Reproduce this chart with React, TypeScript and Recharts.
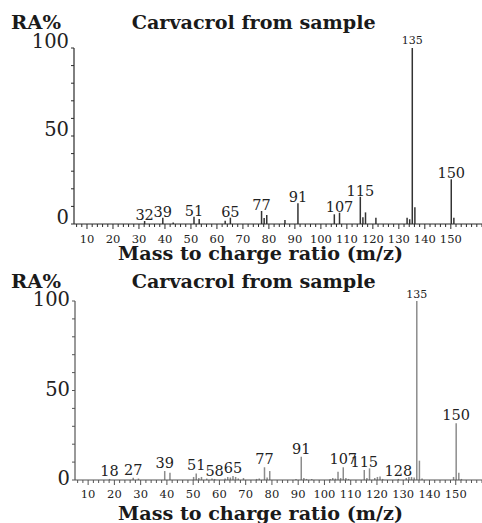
import React from 'react';
import { BarChart, Bar, XAxis, YAxis, LabelList } from 'recharts';

// ---- data: top spectrum ----
const topMz = [32, 39, 43, 51, 53, 63, 65, 77, 78, 79, 86, 91, 105, 107, 115, 116, 117, 121, 133, 134, 135, 136, 150, 151];
const topRA = [1.7, 3.6, 0.9, 4.1, 2.8, 1.9, 3.6, 7.4, 3.4, 5.1, 2.3, 11.8, 5.5, 6.4, 15.5, 3.8, 6.6, 3.6, 3.6, 2.7, 100, 9.5, 25.4, 3.6];
const topLabeled = [32, 39, 51, 65, 77, 91, 107, 115, 135, 150];

// ---- data: bottom spectrum ----
const bottomMz = [18, 27, 29, 39, 41, 50, 51, 52, 53, 55, 57, 58, 62, 63, 64, 65, 66, 67, 69, 74, 75, 77, 78, 79, 89, 91, 92, 93, 95, 102, 103, 104, 105, 106, 107, 108, 109, 115, 116, 117, 119, 120, 121, 122, 128, 131, 132, 133, 134, 135, 136, 137, 149, 150, 151, 152];
const bottomRA = [0.6, 1.2, 0.8, 5.0, 4.1, 1.7, 3.7, 1.1, 1.7, 0.8, 0.8, 0.6, 0.8, 1.7, 1.4, 2.2, 1.7, 0.8, 1.1, 0.6, 0.8, 7.1, 1.4, 5.0, 0.6, 13.0, 1.1, 0.6, 0.6, 0.6, 1.1, 0.8, 4.6, 1.1, 7.1, 1.1, 0.6, 5.6, 1.1, 6.5, 1.1, 1.7, 2.0, 0.6, 0.6, 1.1, 1.7, 1.7, 1.4, 100, 10.8, 0.8, 1.7, 31.7, 4.1, 0.6];
const bottomLabeled = [18, 27, 39, 51, 58, 65, 77, 91, 107, 115, 128, 135, 150];

// ---- axis labels ----
const xMajorTicks = [10, 20, 30, 40, 50, 60, 70, 80, 90, 100, 110, 120, 130, 140, 150];
const yLabelTicks = [0, 50, 100];
const yTicks = [0, 10, 20, 30, 40, 50, 60, 70, 80, 90, 100];

const chartTitle = 'Carvacrol from sample';
const yTitle = 'RA%';
const xTitle = 'Mass to charge ratio (m/z)';

const FONT = '"DejaVu Serif", serif';

function buildData(mz: number[], ra: number[], labeled: number[]) {
  return mz.map((m, i) => ({ mz: m, ra: ra[i], label: labeled.includes(m) ? String(m) : undefined }));
}

function minorTicks(from: number, to: number) {
  const t: number[] = [];
  for (let v = from; v <= to; v += 2) t.push(v);
  return t;
}

const makeXTick = (color: string, labelDy: number) => (props: any) => {
  const { x, y, payload } = props;
  const v = payload.value;
  const major = xMajorTicks.includes(v);
  return (
    <g>
      <line x1={x} x2={x} y1={y} y2={y + (major ? 5 : 3)} stroke={color} strokeWidth={1} />
      {major && (
        <text x={x} y={y + labelDy} textAnchor="middle" fontFamily={FONT} fontSize={11.5} fill="#222">
          {v}
        </text>
      )}
    </g>
  );
};

const makeYTick = (color: string, centerDy: number) => (props: any) => {
  const { x, y, payload } = props;
  const v = payload.value;
  const lab = yLabelTicks.includes(v);
  return (
    <g>
      <line x1={x - 3} x2={x} y1={y} y2={y} stroke={color} strokeWidth={1} />
      {lab && (
        <text x={x - 5} y={y + centerDy + 7} textAnchor="end" fontFamily={FONT} fontSize={19.5} fill="#222">
          {v}
        </text>
      )}
    </g>
  );
};

const makePeakLabel = (offset: number, smallOffset: number) => (props: any) => {
  const { x, y, width, value } = props;
  if (value === undefined || value === null || value === '') return null;
  const small = value === '135';
  return (
    <text
      x={Number(x) + Number(width) / 2}
      y={Number(y) - (small ? smallOffset : offset)}
      textAnchor="middle"
      fontFamily={FONT}
      fontSize={small ? 11 : 14.5}
      fill="#222"
    >
      {value}
    </text>
  );
};

interface SpecProps {
  data: any[];
  height: number;
  top: number;
  yAxisWidth: number;
  xAxisHeight: number;
  domainMax: number;
  barColor: string;
  axisColor: string;
  xLabelDy: number;
  yCenterDy: number;
  labelOffset: number;
  smallOffset: number;
}

function Spectrum(p: SpecProps) {
  return (
    <BarChart
      width={482}
      height={p.height}
      data={p.data}
      margin={{ top: p.top, right: 0, left: 0, bottom: 0 }}
      barSize={1.5}
    >
      <XAxis
        type="number"
        dataKey="mz"
        domain={[5, p.domainMax]}
        ticks={minorTicks(6, p.domainMax)}
        interval={0}
        allowDataOverflow
        height={p.xAxisHeight}
        tickSize={0}
        tickMargin={0}
        tickLine={false}
        axisLine={{ stroke: p.axisColor, strokeWidth: 1.2 }}
        tick={makeXTick(p.axisColor, p.xLabelDy)}
      />
      <YAxis
        type="number"
        domain={[0, 100]}
        ticks={yTicks}
        interval={0}
        width={p.yAxisWidth}
        tickSize={0}
        tickMargin={0}
        tickLine={false}
        axisLine={{ stroke: p.axisColor, strokeWidth: 1.2 }}
        tick={makeYTick(p.axisColor, p.yCenterDy)}
      />
      <Bar dataKey="ra" fill={p.barColor} isAnimationActive={false}>
        <LabelList dataKey="label" content={makePeakLabel(p.labelOffset, p.smallOffset)} />
      </Bar>
    </BarChart>
  );
}

export default function App() {
  const topData = buildData(topMz, topRA, topLabeled);
  const bottomData = buildData(bottomMz, bottomRA, bottomLabeled);
  return (
    <div style={{ position: 'absolute', left: 0, top: 0, width: 482, height: 523, background: '#fff', overflow: 'hidden' }}>
      <div style={{ position: 'absolute', left: 0, top: 0 }}>
        <Spectrum
          data={topData}
          height={260}
          top={48}
          yAxisWidth={74}
          xAxisHeight={36}
          domainMax={162}
          barColor="#333"
          axisColor="#2a2a2a"
          xLabelDy={18.5}
          yCenterDy={-7}
          labelOffset={1}
          smallOffset={4.5}
        />
      </div>
      <div style={{ position: 'absolute', left: 0, top: 260 }}>
        <Spectrum
          data={bottomData}
          height={263}
          top={41}
          yAxisWidth={75}
          xAxisHeight={43}
          domainMax={160}
          barColor="#8c8c8c"
          axisColor="#555"
          xLabelDy={17.5}
          yCenterDy={-2}
          labelOffset={3}
          smallOffset={3.5}
        />
      </div>
      <svg width={482} height={523} style={{ position: 'absolute', left: 0, top: 0, pointerEvents: 'none' }}>
        <g fontFamily={FONT} fontWeight="bold" fill="#1a1a1a">
          <text x={11} y={28.5} fontSize={18.5} textLength={50} lengthAdjust="spacingAndGlyphs">{yTitle}</text>
          <text x={131.7} y={28.5} fontSize={18.5} textLength={244} lengthAdjust="spacingAndGlyphs">{chartTitle}</text>
          <text x={118} y={259.8} fontSize={18} textLength={285} lengthAdjust="spacingAndGlyphs">{xTitle}</text>
          <text x={11} y={288} fontSize={18.5} textLength={50} lengthAdjust="spacingAndGlyphs">{yTitle}</text>
          <text x={131.7} y={288} fontSize={18.5} textLength={244} lengthAdjust="spacingAndGlyphs">{chartTitle}</text>
          <text x={118} y={519.5} fontSize={18} textLength={285} lengthAdjust="spacingAndGlyphs">{xTitle}</text>
        </g>
      </svg>
    </div>
  );
}
